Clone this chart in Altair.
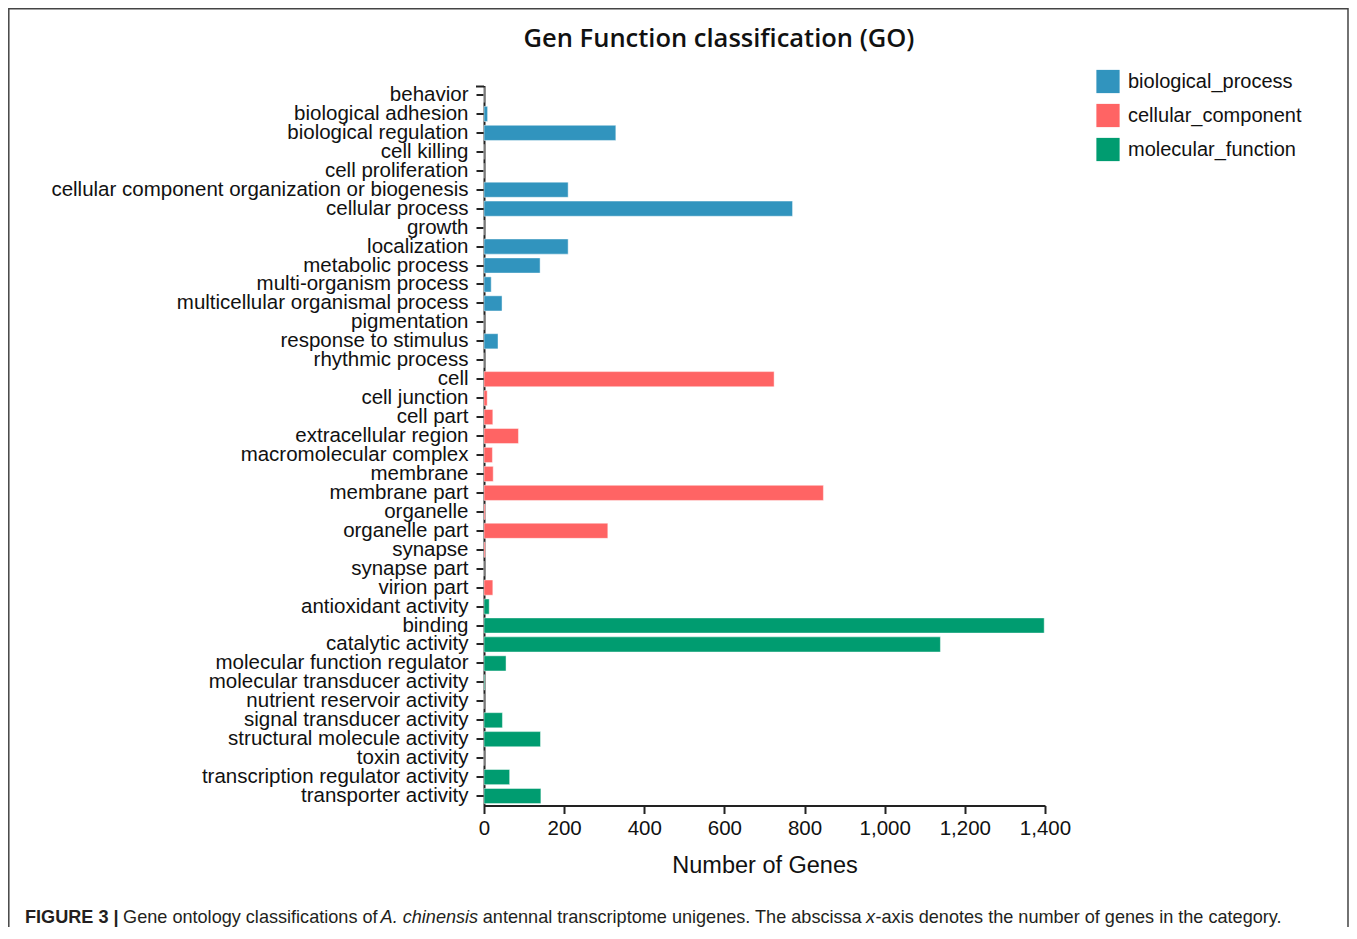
import altair as alt
import pandas as pd

# ---- data ----
bp_terms = ["behavior", "biological adhesion", "biological regulation", "cell killing",
            "cell proliferation", "cellular component organization or biogenesis",
            "cellular process", "growth", "localization", "metabolic process",
            "multi-organism process", "multicellular organismal process", "pigmentation",
            "response to stimulus", "rhythmic process"]
bp_counts = [0, 9, 329, 0, 0, 210, 770, 0, 210, 140, 18, 45, 0, 35, 0]

cc_terms = ["cell", "cell junction", "cell part", "extracellular region",
            "macromolecular complex", "membrane", "membrane part", "organelle",
            "organelle part", "synapse", "synapse part", "virion part"]
cc_counts = [724, 8, 22, 86, 21, 23, 847, 3, 309, 3, 0, 22]

mf_terms = ["antioxidant activity", "binding", "catalytic activity",
            "molecular function regulator", "molecular transducer activity",
            "nutrient reservoir activity", "signal transducer activity",
            "structural molecule activity", "toxin activity",
            "transcription regulator activity", "transporter activity"]
mf_counts = [13, 1398, 1139, 55, 2, 0, 46, 141, 0, 64, 142]

class_names = ["biological_process", "cellular_component", "molecular_function"]
class_colors = ["#3194be", "#ff6464", "#009c70"]
x_ticks = [0, 200, 400, 600, 800, 1000, 1200, 1400]

title_text = "Gen Function classification (GO)"
caption_texts = ["FIGURE 3 |", "Gene ontology classifications of", "A. chinensis",
                 "antennal transcriptome unigenes. The abscissa", "x",
                 "-axis denotes the number of genes in the category."]

rows = []
for cls, terms, counts in zip(class_names, [bp_terms, cc_terms, mf_terms],
                              [bp_counts, cc_counts, mf_counts]):
    for t, c in zip(terms, counts):
        rows.append({"term": t, "count": c, "class": cls})
df = pd.DataFrame(rows)
order = bp_terms + cc_terms + mf_terms
one = pd.DataFrame({"k": [0]})

FONT = "Liberation Sans"

bars = alt.Chart(df).mark_bar(stroke="white", strokeWidth=1, strokeOpacity=0.45).encode(
    x=alt.X("count:Q",
            scale=alt.Scale(domain=[0, 1400], nice=False),
            axis=alt.Axis(values=x_ticks, format=",d", title="Number of Genes",
                          labelFont=FONT, labelFontSize=20.5, labelColor="#111",
                          titleFont=FONT, titleFontSize=23.5, titleFontWeight="normal",
                          titleColor="#111", titlePadding=14,
                          tickSize=8, tickWidth=2, tickColor="#222",
                          domainWidth=2, domainColor="#222", grid=False,
                          labelPadding=5, labelFlush=False)),
    y=alt.Y("term:N", sort=order,
            scale=alt.Scale(paddingInner=0.2, paddingOuter=0.1),
            axis=alt.Axis(title=None, labelFont=FONT, labelFontSize=20.5,
                          labelColor="#111", labelLimit=600, labelPadding=8,
                          tickSize=8, tickWidth=2, tickColor="#222",
                          domainWidth=2, domainColor="#222", grid=False)),
    color=alt.Color("class:N",
                    scale=alt.Scale(domain=class_names, range=class_colors),
                    legend=alt.Legend(title=None, orient="none", legendX=612, legendY=-16,
                                      symbolType="square", symbolSize=540,
                                      symbolStrokeWidth=0, symbolOpacity=1,
                                      labelFont=FONT, labelFontSize=20, labelColor="#111",
                                      labelLimit=400, labelOffset=8, rowPadding=10,
                                      padding=0)),
)

# top end-cap tick of the category axis
cap = alt.Chart(one).mark_rule(color="#222", strokeWidth=2).encode(
    x=alt.value(-8), x2=alt.value(0), y=alt.value(1))

# figure frame
frame = alt.Chart(one).mark_rect(fill="transparent", stroke="#444", strokeWidth=1.5).encode(
    x=alt.value(-475.2), x2=alt.value(864), y=alt.value(-76.7), y2=alt.value(1000))

# chart title
title = alt.Chart(one).mark_text(text=title_text, align="center", baseline="alphabetic",
                                 font="Open Sans", fontSize=25.5, fontWeight=600,
                                 color="#111").encode(x=alt.value(235), y=alt.value(-39))

# caption pieces (x positions chained from the reference)
cap_y = 837.5
cap_x = [-459, -360.9, -103.4, -1.2, 382, 391.5]
cap_w = ["bold", "normal", "normal", "normal", "normal", "normal"]
cap_s = ["normal", "normal", "italic", "normal", "italic", "normal"]
caption_layers = []
for txt, xx, fw, fs in zip(caption_texts, cap_x, cap_w, cap_s):
    caption_layers.append(
        alt.Chart(one).mark_text(text=txt, align="left", baseline="alphabetic",
                                 font=FONT, fontSize=18.1, fontWeight=fw, fontStyle=fs,
                                 color="#231f20").encode(
            x=alt.value(xx), y=alt.value(cap_y)))

chart = alt.layer(frame, bars, cap, title, *caption_layers).properties(
    width=561, height=720,
    autosize=alt.AutoSizeParams(type="none"),
    padding={"left": 476, "top": 77.5, "right": 304, "bottom": 121.5},
    background="white",
    view=alt.ViewBackground(stroke="transparent", strokeWidth=0),
).configure_view(stroke="transparent", strokeWidth=0)

chart.save("out.html", embed_options={"renderer": "svg", "actions": False})
